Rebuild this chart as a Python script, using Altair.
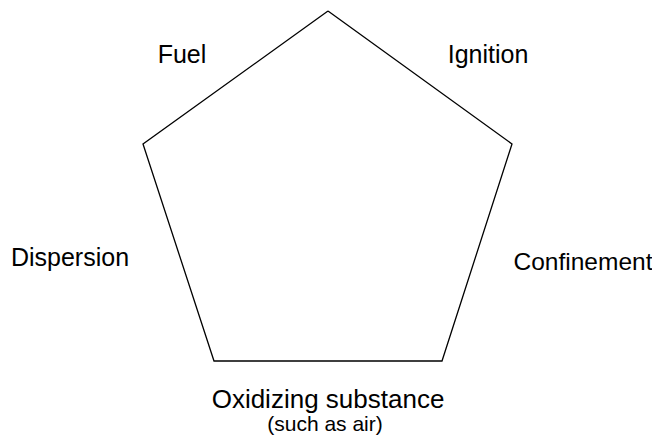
import altair as alt
import pandas as pd

# Pentagon vertices (image pixel coordinates), closed by repeating the first
vertex_x = [328, 512, 442, 214, 143, 328]
vertex_y = [11, 144, 361, 361, 144, 11]
vertex_order = [0, 1, 2, 3, 4, 5]

# Labels
label_text = ["Fuel", "Ignition", "Dispersion", "Confinement", "Oxidizing substance", "(such as air)"]
label_x = [182, 488, 70, 583, 328, 325]
label_y = [55, 55, 258, 263, 400, 425]
label_size = [25, 25, 25, 24.5, 26, 21]

poly = pd.DataFrame({"x": vertex_x, "y": vertex_y, "o": vertex_order})
labels = pd.DataFrame({"t": label_text, "x": label_x, "y": label_y, "s": label_size})

W, H = 644, 428
xs = alt.Scale(domain=[8, 8 + W], nice=False, zero=False)
ys = alt.Scale(domain=[8, 8 + H], nice=False, zero=False, reverse=True)

line = alt.Chart(poly).mark_line(color="#000000", strokeWidth=1.3).encode(
    x=alt.X("x:Q", scale=xs, axis=None),
    y=alt.Y("y:Q", scale=ys, axis=None),
    order="o:Q",
)

text = alt.Chart(labels).mark_text(
    font="Liberation Sans", color="#000000", baseline="middle", align="center"
).encode(
    x=alt.X("x:Q", scale=xs, axis=None),
    y=alt.Y("y:Q", scale=ys, axis=None),
    text="t:N",
    size=alt.Size("s:Q", scale=None, legend=None),
)

chart = (line + text).properties(
    width=W, height=H, padding=0, background="white",
    autosize=alt.AutoSizeParams(type="none"),
).configure_view(stroke="transparent", strokeWidth=0)

chart.save("out.html", embed_options={"renderer": "svg", "actions": False})
